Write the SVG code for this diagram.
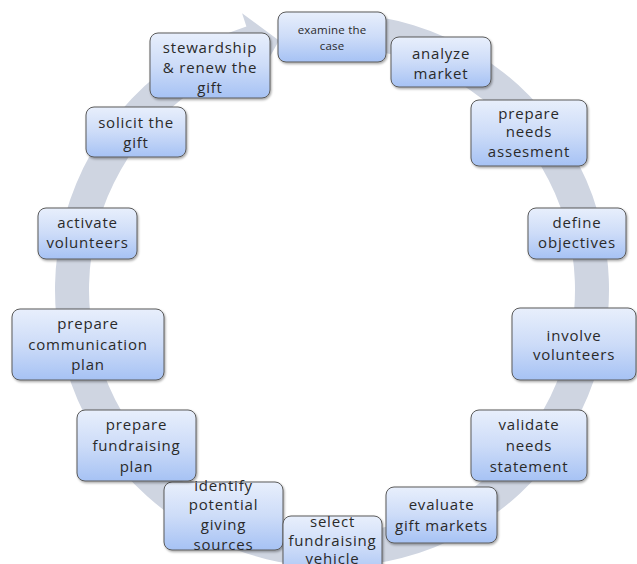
<svg xmlns="http://www.w3.org/2000/svg" width="637" height="564" viewBox="0 0 637 564">
<defs>
<linearGradient id="g" x1="0" y1="0" x2="0" y2="1">
<stop offset="0" stop-color="#e8effc"/>
<stop offset="0.5" stop-color="#cddcf8"/>
<stop offset="1" stop-color="#a6c2f4"/>
</linearGradient>
<filter id="sh" x="-10%" y="-10%" width="130%" height="140%">
<feDropShadow dx="1" dy="1.5" stdDeviation="1" flood-color="#000" flood-opacity="0.35"/>
</filter>
<style>
.box{fill:url(#g);stroke:#5a5a5a;stroke-width:1;filter:url(#sh)}
.t{font-family:"Open Sans","Liberation Sans",sans-serif;font-size:15px;letter-spacing:0.8px;fill:#2a2a2a;text-anchor:middle}
.s{font-size:11.5px;letter-spacing:0.2px}
.ring{fill:#cfd5e1}
</style>
</defs>
<rect width="637" height="564" fill="#ffffff"/>
<g id="connectors">
<path class="ring" d="M 346.5 13.38 A 277 277 0 1 1 246.40 26.56 L 242.08 13.24 L 279 40.6 L 261.23 72.21 L 256.91 58.89 A 243 243 0 1 0 344.72 47.33 Z"/>
</g>
<g id="n1"><rect class="box" x="278" y="12" width="108" height="50" rx="8"/>
<text class="t s" x="332" y="33.5">examine the</text><text class="t s" x="332" y="49.5">case</text></g>
<g id="n2"><rect class="box" x="391" y="37" width="100" height="50" rx="8"/>
<text class="t" x="441" y="58.5">analyze</text><text class="t" x="441" y="78.5">market</text></g>
<g id="n3"><rect class="box" x="471" y="100" width="116" height="66" rx="8"/>
<text class="t" x="529" y="119">prepare</text><text class="t" x="529" y="137">needs</text><text class="t" x="529" y="157">assesment</text></g>
<g id="n4"><rect class="box" x="528" y="208" width="98" height="51" rx="8"/>
<text class="t" x="577" y="228">define</text><text class="t" x="577" y="248">objectives</text></g>
<g id="n5"><rect class="box" x="512" y="308" width="124" height="72" rx="8"/>
<text class="t" x="574" y="341">involve</text><text class="t" x="574" y="360">volunteers</text></g>
<g id="n6"><rect class="box" x="471" y="410" width="116" height="71" rx="8"/>
<text class="t" x="529" y="430">validate</text><text class="t" x="529" y="451">needs</text><text class="t" x="529" y="472">statement</text></g>
<g id="n7"><rect class="box" x="386" y="487" width="111" height="56" rx="8"/>
<text class="t" x="441.5" y="510">evaluate</text><text class="t" x="441.5" y="531">gift markets</text></g>
<g id="n9"><rect class="box" x="164" y="482" width="119" height="68" rx="8"/>
<text class="t" x="223.5" y="491">identify</text><text class="t" x="223.5" y="510">potential</text><text class="t" x="223.5" y="530">giving</text><text class="t" x="223.5" y="550">sources</text></g>
<g id="n8"><rect class="box" x="283" y="516" width="99" height="62" rx="8"/>
<text class="t" x="332.5" y="527">select</text><text class="t" x="332.5" y="546">fundraising</text><text class="t" x="332.5" y="564">vehicle</text></g>
<g id="n10"><rect class="box" x="77" y="410" width="119" height="71" rx="8"/>
<text class="t" x="136.5" y="430">prepare</text><text class="t" x="136.5" y="451">fundraising</text><text class="t" x="136.5" y="472">plan</text></g>
<g id="n11"><rect class="box" x="12" y="309" width="152" height="71" rx="8"/>
<text class="t" x="88" y="329">prepare</text><text class="t" x="88" y="350">communication</text><text class="t" x="88" y="370">plan</text></g>
<g id="n12"><rect class="box" x="38" y="208" width="99" height="51" rx="8"/>
<text class="t" x="87.5" y="228">activate</text><text class="t" x="87.5" y="248">volunteers</text></g>
<g id="n13"><rect class="box" x="86" y="107" width="100" height="50" rx="8"/>
<text class="t" x="136" y="128">solicit the</text><text class="t" x="136" y="148">gift</text></g>
<g id="n14"><rect class="box" x="150" y="33" width="120" height="65" rx="8"/>
<text class="t" x="210" y="53">stewardship</text><text class="t" x="210" y="73">&amp; renew the</text><text class="t" x="210" y="93">gift</text></g>
</svg>
